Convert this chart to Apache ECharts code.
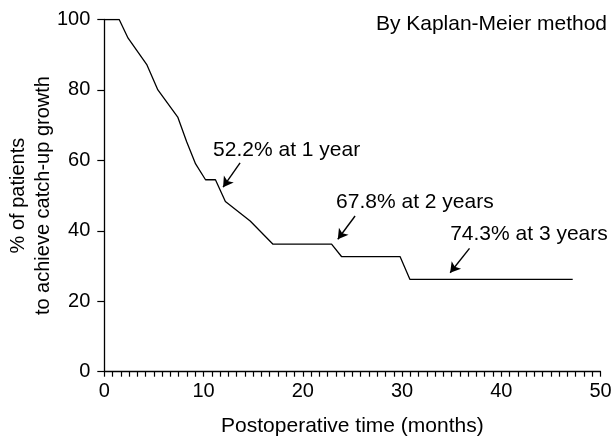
<!DOCTYPE html>
<html>
<head>
<meta charset="utf-8">
<script src="https://cdn.jsdelivr.net/npm/echarts@6/dist/echarts.min.js"></script>
<style>
html,body{margin:0;padding:0;background:#fff;}
#chart{width:613px;height:439px;}
</style>
</head>
<body>
<div id="chart"></div>
<script>
// Kaplan-Meier curve (months, % of patients not yet achieving catch-up growth)
var months = [0, 1.5, 2.4, 4.3, 5.4, 7.4, 8.3, 9.2, 10.2, 11.2, 12.2, 14.7, 17.0, 22.9, 23.9, 29.8, 30.8, 47.2];
var pct    = [100, 100, 94.7, 87.1, 80.0, 72.3, 65.3, 59.0, 54.5, 54.5, 48.3, 42.8, 36.2, 36.2, 32.7, 32.7, 26.2, 26.2];

var xTicks = [0, 10, 20, 30, 40, 50];
var yTicks = [0, 20, 40, 60, 80, 100];

// annotations (in data units)
var noteText = ['52.2% at 1 year', '67.8% at 2 years', '74.3% at 3 years'];
var noteX    = [10.96, 23.36, 34.85];
var noteY    = [62.9, 48.2, 39.1];
var arrowFromX = [13.68, 25.27, 36.8];
var arrowFromY = [59.3, 44.2, 35.0];
var arrowToX   = [11.97, 23.53, 34.85];
var arrowToY   = [52.4, 37.6, 28.1];

var FONT = '"Liberation Sans", Arial, Helvetica, sans-serif';
var chart = echarts.init(document.getElementById('chart'), null, {renderer: 'canvas'});

var seriesData = months.map(function (m, i) { return [m, pct[i]]; });
var notes = noteText.map(function (t, i) {
  return {coord: [noteX[i], noteY[i]], value: t};
});
var arrows = noteText.map(function (t, i) {
  return [{coord: [arrowFromX[i], arrowFromY[i]]}, {coord: [arrowToX[i], arrowToY[i]]}];
});

chart.setOption({
  animation: false,
  backgroundColor: '#fff',
  title: {
    text: 'By Kaplan-Meier method',
    right: 1, top: 9,
    textStyle: {fontFamily: FONT, fontSize: 21, fontWeight: 'normal', color: '#000'}
  },
  grid: {left: 104.3, right: 12.5, top: 19.5, bottom: 67.3, containLabel: false, outerBoundsMode: 'none'},
  xAxis: {
    type: 'value',
    min: xTicks[0], max: xTicks[xTicks.length - 1], interval: 10,
    name: 'Postoperative time (months)',
    nameLocation: 'middle', nameGap: 44, nameMoveOverlap: false,
    nameTextStyle: {fontFamily: FONT, fontSize: 21, color: '#000'},
    axisLine: {show: true, onZero: false, lineStyle: {color: '#000', width: 1.3}},
    axisTick: {show: true, inside: false, length: 5, lineStyle: {color: '#000', width: 1.2}},
    minorTick: {show: true, splitNumber: 12, length: 5, lineStyle: {color: '#000', width: 1.2}},
    axisLabel: {fontFamily: FONT, fontSize: 20, color: '#000', margin: 10},
    splitLine: {show: false},
    minorSplitLine: {show: false}
  },
  yAxis: {
    type: 'value',
    min: yTicks[0], max: yTicks[yTicks.length - 1], interval: 20,
    name: '% of patients\nto achieve catch-up growth',
    nameLocation: 'middle', nameGap: 48, nameRotate: 90, nameMoveOverlap: false,
    nameTextStyle: {fontFamily: FONT, fontSize: 20, color: '#000', lineHeight: 25, align: 'center'},
    axisLine: {show: true, onZero: false, lineStyle: {color: '#000', width: 1.3}},
    axisTick: {show: true, inside: false, length: 7, lineStyle: {color: '#000', width: 1.2}},
    axisLabel: {fontFamily: FONT, fontSize: 20, color: '#000', margin: 14},
    splitLine: {show: false}
  },
  series: [{
    type: 'line',
    data: seriesData,
    showSymbol: false,
    symbol: 'none',
    lineStyle: {color: '#000', width: 1.3},
    silent: true,
    markLine: {
      silent: true,
      symbol: ['none', 'arrow'],
      symbolSize: [9, 10],
      label: {show: false},
      lineStyle: {color: '#000', width: 1.4, type: 'solid'},
      data: arrows
    },
    markPoint: {
      silent: true,
      symbol: 'circle',
      symbolSize: 0,
      label: {
        show: true, position: 'right', distance: 0,
        fontFamily: FONT, fontSize: 21, color: '#000',
        formatter: function (p) { return p.value; }
      },
      data: notes
    }
  }]
});
</script>
</body>
</html>
